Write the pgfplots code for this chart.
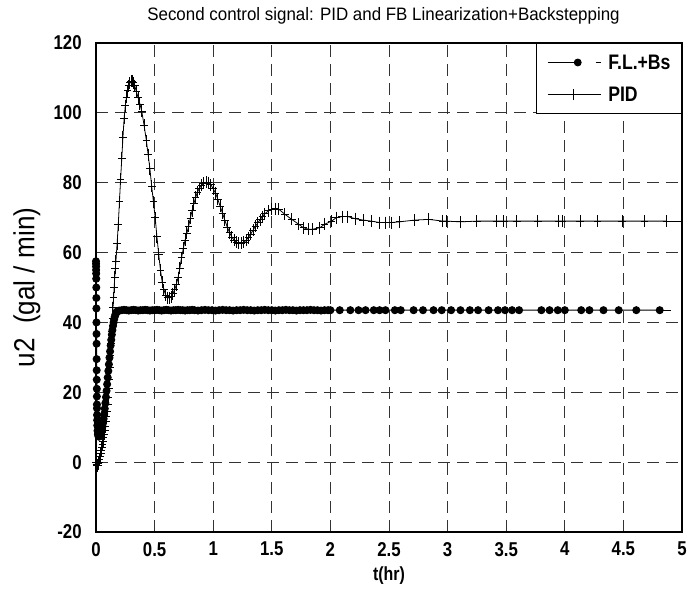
\documentclass[border=0pt]{standalone}
\usepackage{fontspec}
\setmainfont{Liberation Sans}
\newfontfamily\tickfont[FakeStretch=0.84]{Liberation Sans}
\newfontfamily\titlefont[FakeStretch=0.94]{Liberation Sans}
\newfontfamily\labfont[FakeStretch=0.9]{Liberation Sans}
\usepackage{pgfplots}
\pgfplotsset{compat=1.18}

\begin{document}
\begin{tikzpicture}
\begin{axis}[
  width=293pt, height=244.5pt, scale only axis,
  xmin=0, xmax=5, ymin=-20, ymax=120,
  xtick={0,0.5,...,5}, ytick={-20,0,...,120},
  grid=major,
  major grid style={black!80, line width=0.5pt, dash pattern=on 6pt off 3.5pt},
  major tick length=0pt,
  axis line style={line width=0.6pt},
  clip=false,
  /pgf/number format/assume math mode=true,
  tick label style={font=\tickfont\bfseries\fontsize{10}{12}\selectfont},
  xticklabel style={anchor=north, inner sep=0pt, yshift=-4.9pt},
  yticklabel style={anchor=east, inner sep=0pt, xshift=-7pt},
  title={Second control signal: PID and FB Linearization+Backstepping},
  title style={font=\titlefont\fontsize{9}{11}\selectfont, at={(axis description cs:0.5,1)}, anchor=base, yshift=5pt, xshift=-2.75pt},
  xlabel={t(hr)},
  xlabel style={font=\tickfont\bfseries\fontsize{9.5}{11}\selectfont, at={(axis description cs:0.5,0)}, anchor=center, yshift=-22pt},
  ylabel={u2\ \ (gal / min)},
  ylabel style={font=\labfont\fontsize{14.5}{16}\selectfont, at={(axis description cs:0,0.5)}, anchor=center, yshift=34.5pt},
  legend style={at={(1,1)}, anchor=north east, draw=black, line width=0.5pt, fill=white,
    inner xsep=5.5pt, inner ysep=6pt, row sep=9pt, column sep=3.5pt,
    nodes={inner sep=0pt, text height=7pt, text depth=0pt},
    cells={anchor=west},
    font=\tickfont\bfseries\fontsize{10.5}{12}\selectfont},
]
  %% F.L.+Bs control
  \addplot[black, line width=0.5pt, mark=*, mark size=1.75pt,
    legend image code/.code={
      \draw[line width=0.5pt] (0pt,0pt) -- (15pt,0pt);
      \fill (15pt,0pt) circle (1.7pt);
      \draw[line width=0.5pt] (24pt,0pt) -- (26.5pt,0pt);
    }]
    coordinates {
    (0,57.5)(0.0004,56.8)(0.0008,56)(0.0012,55)(0.0016,54)(0.002,52.5)(0.0025,50)
    (0.003,47)(0.0035,44)(0.004,40)(0.0045,36.7)(0.005,33.9)(0.0055,29.5)(0.006,26.3)
    (0.0065,23.6)(0.007,21)(0.0075,18.8)(0.008,16.5)(0.0085,15.4)(0.009,13.5)(0.01,12)
    (0.011,10.5)(0.013,9)(0.016,8)(0.02,7.5)(0.025,7.3)(0.03,7.4)(0.035,7.6)(0.04,8)
    (0.045,8.6)(0.05,9.3)(0.055,10.2)(0.06,11.2)(0.065,12.4)(0.07,13.8)(0.075,15.3)
    (0.08,16.9)(0.085,18.6)(0.09,20.4)(0.095,22.3)(0.1,24.2)(0.105,26.1)(0.11,28)
    (0.115,29.9)(0.12,31.7)(0.125,33.4)(0.13,35)(0.135,36.5)(0.14,37.8)(0.145,39)
    (0.15,40)(0.155,40.9)(0.16,41.6)(0.165,42.2)(0.17,42.6)(0.175,42.9)(0.18,43.1)
    (0.19,43.3)(0.2,43.4)(0.22,43.5)(0.24,43.6)(0.26,43.5)(0.28,43.4)(0.3,43.5)
    (0.32,43.6)(0.34,43.5)(0.36,43.4)(0.38,43.5)(0.4,43.5)(0.42,43.6)(0.44,43.5)
    (0.46,43.4)(0.48,43.5)(0.5,43.5)(0.52,43.6)(0.54,43.5)(0.56,43.4)(0.58,43.5)
    (0.6,43.6)(0.62,43.5)(0.64,43.4)(0.66,43.5)(0.68,43.5)(0.7,43.6)(0.72,43.5)
    (0.74,43.5)(0.76,43.4)(0.78,43.5)(0.8,43.5)(0.82,43.6)(0.84,43.5)(0.87,43.4)
    (0.9,43.5)(0.93,43.6)(0.96,43.5)(0.99,43.5)(1.02,43.4)(1.05,43.5)(1.08,43.6)
    (1.11,43.5)(1.14,43.5)(1.17,43.4)(1.2,43.5)(1.23,43.5)(1.26,43.6)(1.29,43.5)
    (1.32,43.5)(1.35,43.4)(1.38,43.5)(1.41,43.5)(1.44,43.6)(1.47,43.5)(1.5,43.5)
    (1.53,43.4)(1.56,43.5)(1.59,43.5)(1.62,43.6)(1.65,43.5)(1.68,43.5)(1.71,43.4)
    (1.74,43.5)(1.77,43.5)(1.8,43.5)(1.83,43.6)(1.86,43.5)(1.89,43.5)(1.92,43.4)
    (1.95,43.5)(1.98,43.5)(2.0,43.5)(2.08,43.5)(2.17,43.5)(2.24,43.5)(2.30,43.5)
    (2.37,43.5)(2.42,43.5)(2.47,43.5)(2.55,43.5)(2.6,43.5)(2.71,43.5)(2.79,43.5)
    (2.88,43.5)(2.95,43.5)(3.03,43.5)(3.11,43.5)(3.19,43.5)(3.26,43.5)(3.35,43.5)
    (3.43,43.5)(3.49,43.5)(3.55,43.5)(3.61,43.5)(3.80,43.5)(3.87,43.5)(3.94,43.5)
    (4.0,43.5)(4.14,43.5)(4.21,43.5)(4.33,43.5)(4.46,43.5)(4.61,43.5)(4.81,43.5)
    };
  \addlegendentry{F.L.+Bs}
  %% PID control
  \addplot[black, line width=0.4pt, mark=+, mark size=2.4pt,
    mark options={xscale=0.8, yscale=1.25, line width=0.5pt},
    legend image code/.code={
      \draw[line width=0.4pt] (0pt,0pt) -- (26.5pt,0pt);
      \draw[line width=0.5pt] (13pt,-2.6pt) -- (13pt,2.6pt);
    }]
    coordinates {
    (0,0)(0.005,-0.8)(0.01,-1)(0.015,-1)(0.02,-0.5)(0.025,0)(0.03,0.8)(0.035,1.6)
    (0.04,2.5)(0.045,3.3)(0.05,4.2)(0.055,5)(0.06,6)(0.065,7)(0.07,8)(0.075,9)
    (0.08,10.2)(0.085,11.5)(0.09,13)(0.095,14.6)(0.1,16.5)(0.105,18.6)(0.11,21)
    (0.115,23.8)(0.12,27)(0.125,30.5)(0.13,34)(0.135,37.5)(0.14,41)(0.145,44.2)
    (0.15,47)(0.155,50)(0.16,53)(0.165,55.5)(0.17,57.5)(0.18,62.5)(0.19,68)
    (0.2,74.5)(0.21,81)(0.22,87)(0.23,93)(0.24,98.5)(0.25,102)(0.26,104.5)
    (0.27,106.3)(0.28,107.7)(0.29,108.6)(0.3,109)(0.31,109)(0.32,108.6)(0.33,107.8)
    (0.345,106)(0.36,104.3)(0.375,102.5)(0.39,100.5)(0.41,96.5)(0.43,92)(0.445,88)
    (0.46,84)(0.475,79)(0.49,74.5)(0.505,70)(0.52,64.5)(0.535,59.5)(0.55,55)
    (0.565,51.5)(0.58,49.3)(0.595,47.8)(0.61,47.1)(0.625,47)(0.64,47.3)(0.655,48.2)
    (0.67,49.3)(0.685,50.8)(0.7,52.8)(0.715,55.5)(0.73,58.5)(0.745,61.2)(0.76,63.5)
    (0.775,65.5)(0.79,67.5)(0.805,69.8)(0.82,72)(0.835,74)(0.85,75.8)(0.865,77.2)
    (0.88,78.3)(0.9,79.3)(0.92,79.9)(0.94,80.1)(0.96,80)(0.98,79.4)(1.0,78.3)
    (1.02,77)(1.04,75.2)(1.06,73.2)(1.08,71.2)(1.1,69.2)(1.12,67.3)(1.14,65.7)
    (1.16,64.4)(1.18,63.5)(1.2,62.9)(1.22,62.6)(1.24,62.6)(1.26,62.9)(1.28,63.5)
    (1.3,64.3)(1.32,65.3)(1.34,66.4)(1.36,67.5)(1.38,68.5)(1.4,69.4)(1.42,70.3)
    (1.44,71.1)(1.47,71.9)(1.5,72.4)(1.53,72.6)(1.56,72.4)(1.61,71)(1.67,69.5)
    (1.73,68.1)(1.77,67.1)(1.81,66.7)(1.85,66.7)(1.91,67.1)(1.95,68.1)(2.01,69)
    (2.05,70)(2.1,70.3)(2.15,70.3)(2.21,69.7)(2.28,69.3)(2.35,69)(2.42,68.6)
    (2.47,68.6)(2.52,68.6)(2.59,68.8)(2.72,69.3)(2.84,69.5)(2.96,69)(2.99,69)
    (3.11,68.8)(3.25,69)(3.42,69)(3.48,69)(3.59,69)(3.77,69)(3.95,69)(3.98,69)
    (4.13,69)(4.28,69)(4.49,69)(4.68,69)(4.87,69)
    };
  \addlegendentry{PID}
  %% line tails past the last markers
  \addplot[black, line width=0.5pt, forget plot] coordinates {(4.81,43.5)(4.91,43.5)};
  \addplot[black, line width=0.4pt, forget plot] coordinates {(4.87,69)(5,69)};
  \coordinate (sw) at (rel axis cs:0,0);
  \coordinate (ne) at (rel axis cs:1,1);
\end{axis}
\path (sw) ++(-48pt,-32.5pt) coordinate (bba);
\path (ne) ++(9pt,21.5pt) coordinate (bbb);
\pgfresetboundingbox
\useasboundingbox (bba) rectangle (bbb);
\end{tikzpicture}
\end{document}
